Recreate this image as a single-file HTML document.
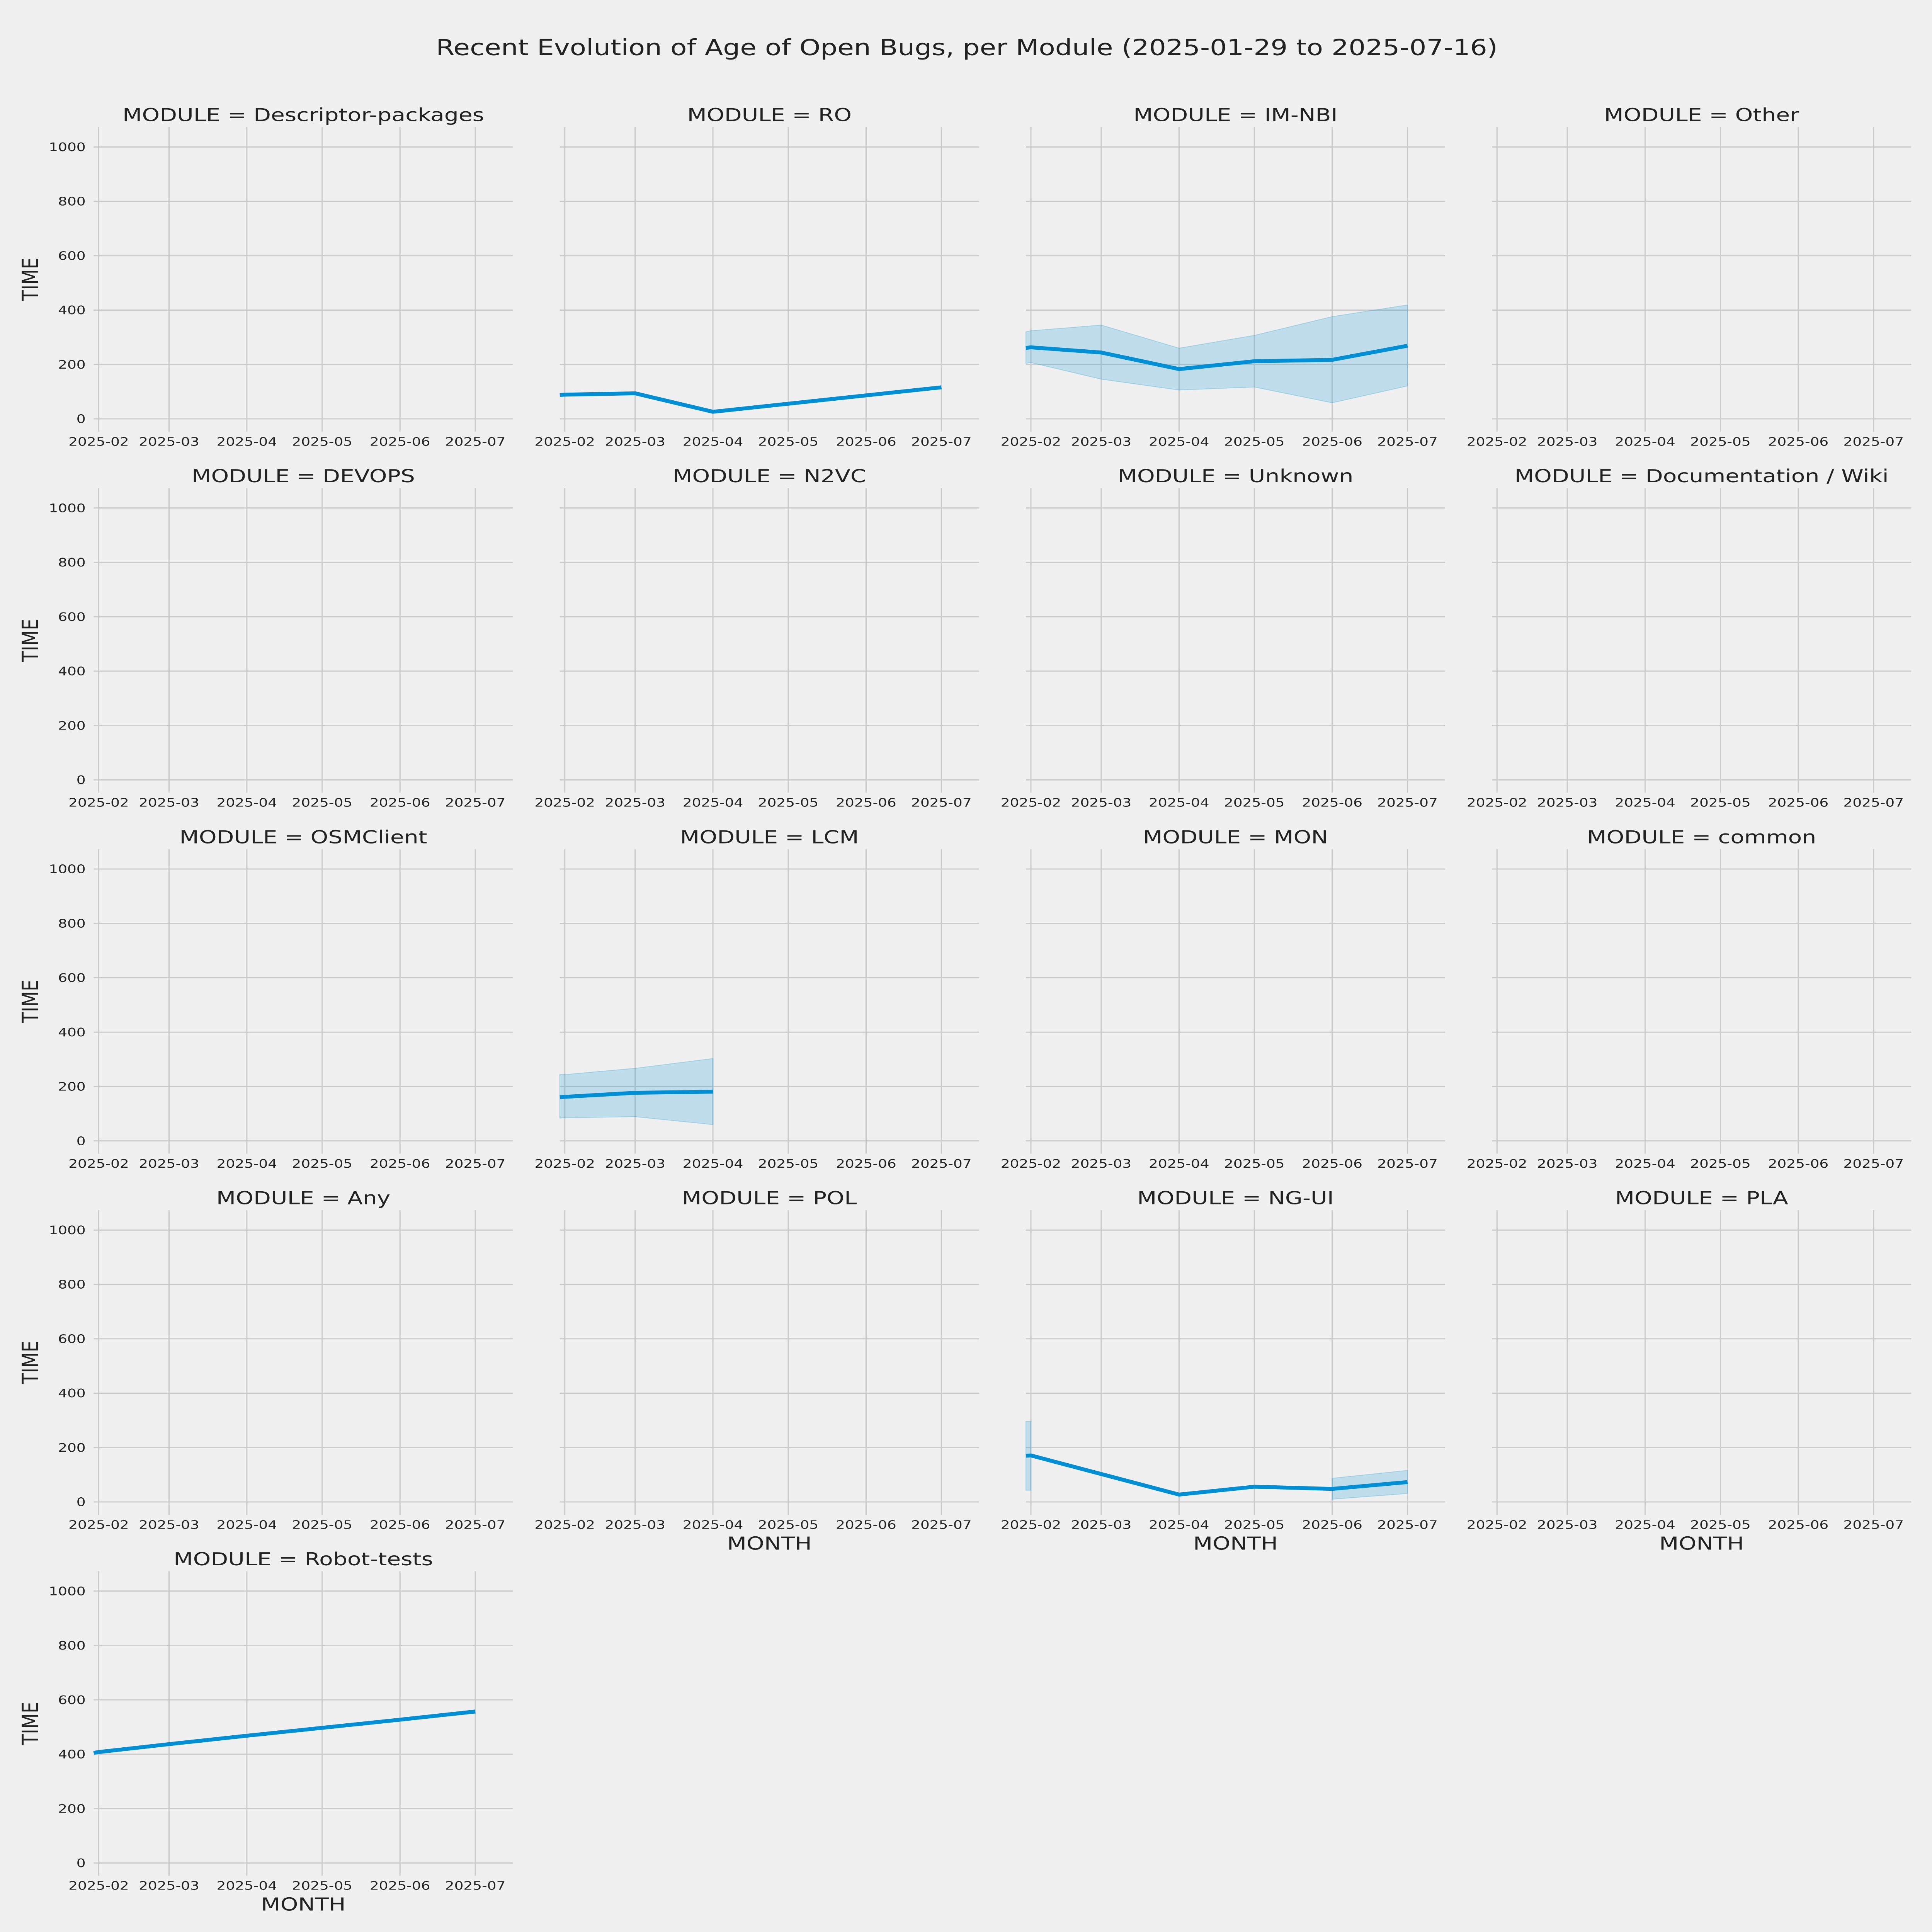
<!DOCTYPE html>
<html><head><meta charset="utf-8">
<style>
html,body{margin:0;padding:0;background:#f0f0f0;width:100%;height:100%;overflow:hidden;}
svg{display:block;position:fixed;left:0;top:0;width:100%;height:100%;font-family:"DejaVu Sans","Liberation Sans",sans-serif;}
</style></head>
<body>
<svg id="chart" viewBox="0 0 6000 7500" preserveAspectRatio="none" xmlns="http://www.w3.org/2000/svg">
<rect x="0" y="0" width="6000" height="7500" fill="#f0f0f0"/>
<text x="1354" y="214" font-size="85" fill="#222" textLength="3297" lengthAdjust="spacingAndGlyphs">Recent Evolution of Age of Open Bugs, per Module (2025-01-29 to 2025-07-16)</text>
</svg>
<script>
// ---- data ----
const modules = ["Descriptor-packages","RO","IM-NBI","Other","DEVOPS","N2VC","Unknown","Documentation / Wiki","OSMClient","LCM","MON","common","Any","POL","NG-UI","PLA","Robot-tests"];
const yTicks = [0,200,400,600,800,1000];
const monthTicks = ["2025-02-01","2025-03-01","2025-04-01","2025-05-01","2025-06-01","2025-07-01"];
const monthLabels = ["2025-02","2025-03","2025-04","2025-05","2025-06","2025-07"];
const xDomain = ["2025-01-30","2025-07-16"];
const yDomain = [-47,1073];

const roDates = ["2025-01-30","2025-02-01","2025-03-01","2025-04-01","2025-07-01"];
const roMean = [88,89,94,26,116];

const imnbiDates = ["2025-01-30","2025-02-01","2025-03-01","2025-04-01","2025-05-01","2025-06-01","2025-07-01"];
const imnbiMean = [261,263,244,183,212,217,269];
const imnbiLow = [204,207,146,106,117,59,121];
const imnbiHigh = [320,324,345,260,307,376,419];

const lcmDates = ["2025-01-30","2025-02-01","2025-03-01","2025-04-01"];
const lcmMean = [161,162,177,181];
const lcmLow = [84,85,89,60];
const lcmHigh = [244,244,267,303];

const nguiDates = ["2025-01-30","2025-02-01","2025-04-01","2025-05-01","2025-06-01","2025-07-01"];
const nguiMean = [170,171,27,56,48,73];
const nguiLow = [43,43,null,null,10,31];
const nguiHigh = [296,296,null,null,87,116];

const robotDates = ["2025-01-30","2025-02-01","2025-03-01","2025-04-01","2025-05-01","2025-06-01","2025-07-01"];
const robotMean = [405,408,437,468,497,527,557];

const series = {
  "RO": {dates: roDates, mean: roMean},
  "IM-NBI": {dates: imnbiDates, mean: imnbiMean, low: imnbiLow, high: imnbiHigh},
  "LCM": {dates: lcmDates, mean: lcmMean, low: lcmLow, high: lcmHigh},
  "NG-UI": {dates: nguiDates, mean: nguiMean, low: nguiLow, high: nguiHigh},
  "Robot-tests": {dates: robotDates, mean: robotMean}
};

// ---- layout ----
const NS = "http://www.w3.org/2000/svg";
const svg = document.getElementById("chart");
const AX_LEFT0 = 291, COL_STEP = 1447.5, AX_W = 1302;
const Y0_0 = 1626, ROW_STEP = 1401.5, PX_PER_UNIT = 1.0555;
const LINE = "#008fd5", GRID = "#cbcbcb", TXT = "#222";
const t0 = Date.parse(xDomain[0]), t1 = Date.parse(xDomain[1]);

function mk(tag, attrs, parent) {
  const e = document.createElementNS(NS, tag);
  for (const k in attrs) e.setAttribute(k, attrs[k]);
  (parent || svg).appendChild(e);
  return e;
}

modules.forEach((name, i) => {
  const col = i % 4, row = Math.floor(i / 4);
  const left = AX_LEFT0 + col * COL_STEP;
  const right = left + AX_W;
  const y0 = Y0_0 + row * ROW_STEP;
  const xs = d => left + (Date.parse(d) - t0) / (t1 - t0) * AX_W;
  const ys = v => y0 - v * PX_PER_UNIT;
  const top = ys(yDomain[1]), bottom = ys(yDomain[0]);

  const g = mk("g", {});
  
  

  yTicks.forEach(v => {
    const ln = mk("line", {x1: left, x2: right, y1: ys(v), y2: ys(v), stroke: GRID, "stroke-width": 4.5}, g);
    
    
    if (col === 0) {
      const t = mk("text", {x: left - 25, y: ys(v) + 16, "font-size": 45, fill: TXT, "text-anchor": "end"}, g);
      t.textContent = String(v);
      
      
    }
  });
  monthTicks.forEach((m, k) => {
    const x = xs(m);
    const ln = mk("line", {x1: x, x2: x, y1: top, y2: bottom, stroke: GRID, "stroke-width": 3.8}, g);
    
    
    const t = mk("text", {x: x, y: y0 + 104, "font-size": 45, fill: TXT, "text-anchor": "middle"}, g);
    t.textContent = monthLabels[k];
    
    
  });

  const tt = mk("text", {x: (left + right) / 2, y: top - 23, "font-size": 70, fill: TXT, "text-anchor": "middle"}, g);
  tt.textContent = "MODULE = " + name;
  
  

  if (col === 0) {
    const cy = (top + bottom) / 2;
    const yl = mk("text", {x: 95, y: cy, "font-size": 70, fill: TXT, "text-anchor": "middle", "dominant-baseline": "central", transform: "rotate(-90 95 " + cy + ")"}, g);
    yl.textContent = "TIME";
    
    
  }
  if (i >= modules.length - 4) {
    const xl = mk("text", {x: (left + right) / 2, y: y0 + 185, "font-size": 70, fill: TXT, "text-anchor": "middle"}, g);
    xl.textContent = "MONTH";
    
    
  }

  const s = series[name];
  if (!s) return;
  if (s.low && s.high) {
    let seg = [];
    const flush = () => {
      if (seg.length >= 2) {
        const up = seg.map(k => xs(s.dates[k]) + "," + ys(s.high[k]));
        const dn = seg.slice().reverse().map(k => xs(s.dates[k]) + "," + ys(s.low[k]));
        const p = mk("polygon", {points: up.concat(dn).join(" "), fill: LINE, "fill-opacity": 0.2, stroke: LINE, "stroke-opacity": 0.25, "stroke-width": 3}, g);
        
        
      }
      seg = [];
    };
    s.dates.forEach((d, k) => {
      if (s.low[k] == null || s.high[k] == null) flush(); else seg.push(k);
    });
    flush();
  }
  const pts = s.dates.map((d, k) => xs(d) + "," + ys(s.mean[k])).join(" ");
  const pl = mk("polyline", {points: pts, fill: "none", stroke: LINE, "stroke-width": 15, "stroke-linejoin": "miter", "stroke-linecap": "butt"}, g);
  
  
});
</script>
</body></html>
